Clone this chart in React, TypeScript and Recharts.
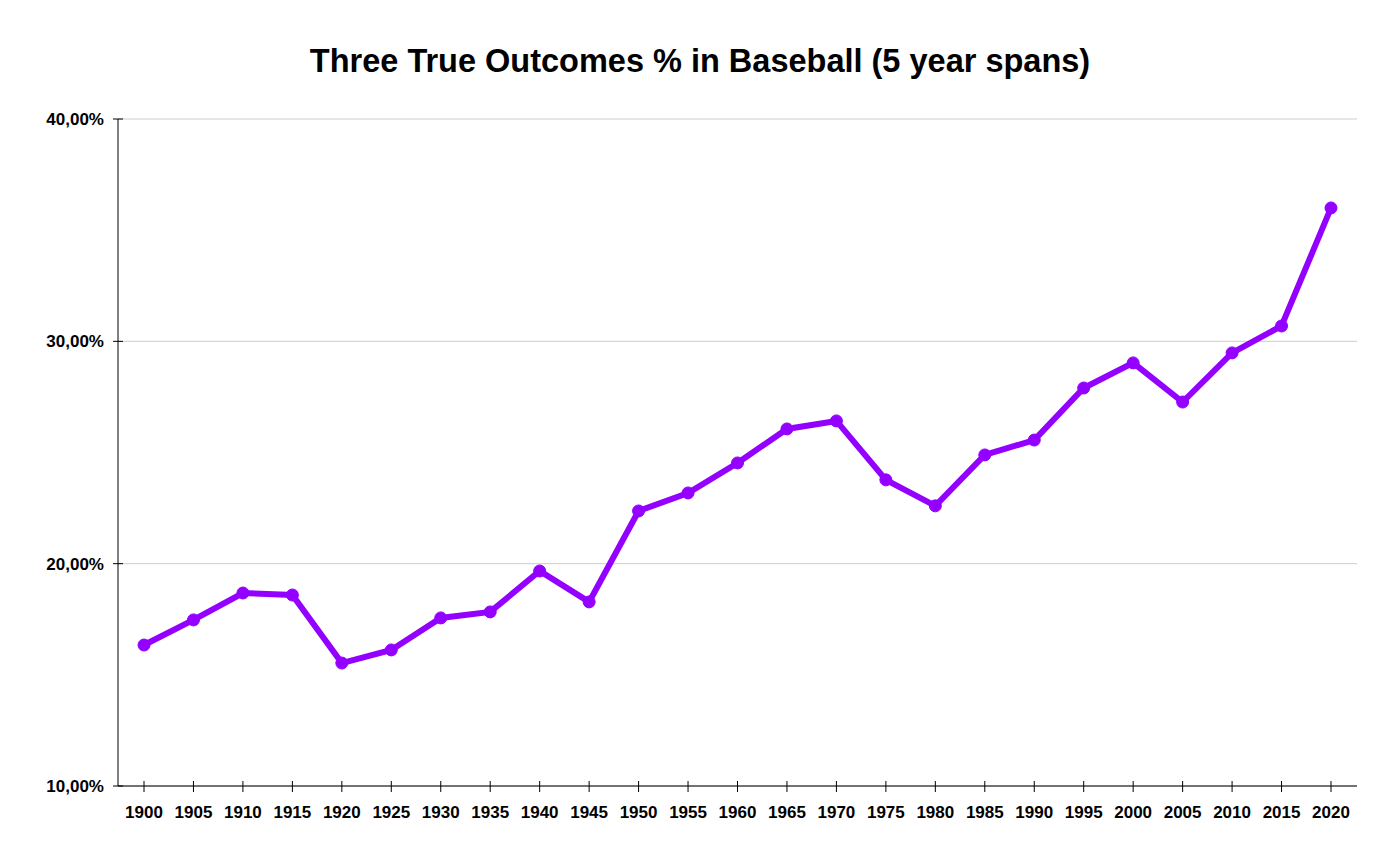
import { LineChart, Line, XAxis, YAxis, CartesianGrid } from "recharts";

// five-year span start years
const years: string[] = [
  "1900", "1905", "1910", "1915", "1920", "1925", "1930", "1935", "1940",
  "1945", "1950", "1955", "1960", "1965", "1970", "1975", "1980", "1985",
  "1990", "1995", "2000", "2005", "2010", "2015", "2020",
];

// three true outcomes share, in percent
const ttoPct: number[] = [
  16.34, 17.47, 18.68, 18.59, 15.53, 16.12, 17.56, 17.83, 19.67,
  18.28, 22.37, 23.18, 24.53, 26.06, 26.42, 23.77, 22.6, 24.89,
  25.56, 27.9, 29.03, 27.27, 29.48, 30.69, 36.0,
];

const yTicks: number[] = [10, 20, 30, 40];

const data = years.map((year, i) => ({ year, tto: ttoPct[i] }));

const FONT = "'Liberation Sans', Arial, sans-serif";

const fmtPct = (v: number): string => v.toFixed(2).replace(".", ",") + "%";

// x tick: short mark crossing the axis, label below
const XTick = (props: any) => {
  const { x, y, payload } = props;
  return (
    <g>
      <line x1={x} x2={x} y1={y - 5} y2={y + 6} stroke="#000" />
      <text
        x={x}
        y={y + 32}
        textAnchor="middle"
        fill="#000"
        fontSize={17}
        fontWeight="bold"
        fontFamily={FONT}
      >
        {payload.value}
      </text>
    </g>
  );
};

// y tick: mark crossing the axis, label to the left
const YTick = (props: any) => {
  const { x, y, payload } = props;
  return (
    <g>
      <line x1={x - 5} x2={x + 5} y1={y} y2={y} stroke="#000" />
      <text
        x={x - 14}
        y={y + 6}
        textAnchor="end"
        fill="#000"
        fontSize={17}
        fontWeight="bold"
        fontFamily={FONT}
      >
        {fmtPct(payload.value)}
      </text>
    </g>
  );
};

const App = () => {
  return (
    <div
      style={{
        position: "absolute",
        left: 0,
        top: 0,
        width: 1400,
        height: 866,
        background: "#fff",
        fontFamily: FONT,
      }}
    >
      <div
        style={{
          position: "absolute",
          top: 43,
          left: 0,
          width: 1400,
          textAlign: "center",
          fontSize: 32.5,
          fontWeight: "bold",
          color: "#000",
        }}
      >
        Three True Outcomes % in Baseball (5 year spans)
      </div>
      <LineChart
        width={1400}
        height={866}
        data={data}
        margin={{ top: 119, right: 43, bottom: 52, left: 0 }}
      >
        <CartesianGrid vertical={false} stroke="#cccccc" />
        <XAxis
          dataKey="year"
          padding={{ left: 26, right: 26 }}
          axisLine={{ stroke: "#000" }}
          tickLine={false}
          tickSize={0}
          tickMargin={0}
          interval={0}
          height={28}
          tick={<XTick />}
        />
        <YAxis
          width={118}
          domain={[10, 40]}
          ticks={yTicks}
          axisLine={{ stroke: "#000" }}
          tickLine={false}
          tickSize={0}
          tickMargin={0}
          tick={<YTick />}
        />
        <Line
          type="linear"
          dataKey="tto"
          stroke="#9400ff"
          strokeWidth={6}
          dot={{ r: 6, fill: "#9400ff", stroke: "#9400ff", strokeWidth: 1 }}
          activeDot={false}
          isAnimationActive={false}
        />
      </LineChart>
    </div>
  );
};

export default App;
